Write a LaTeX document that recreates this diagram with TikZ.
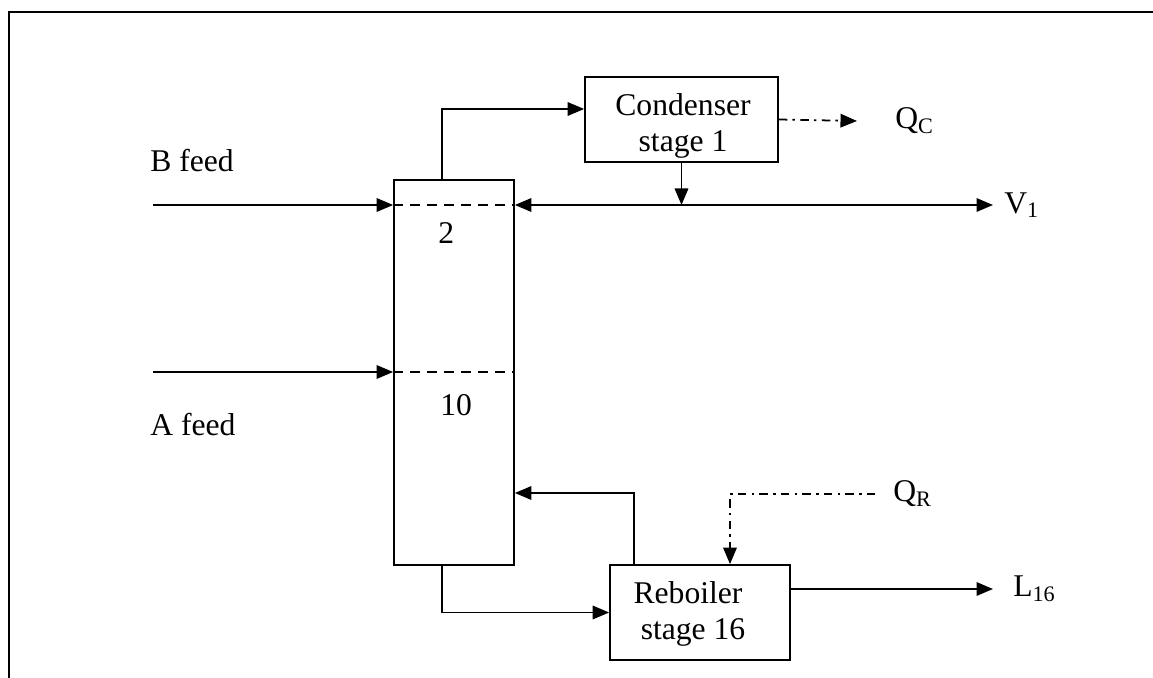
\documentclass[tikz,border=0pt]{standalone}
\usepackage{fontspec}
\setmainfont{Liberation Serif}
\usetikzlibrary{arrows.meta,positioning}

\begin{document}
\begin{tikzpicture}[
  x=0.02cm,y=-0.02cm,
  font=\fontsize{18}{20}\selectfont,
  >={Triangle[length=3.3mm,width=2.7mm]},
  unit/.style={draw, line width=1pt, inner sep=0pt},
  stream/.style={draw, line width=1pt, ->},
  tray/.style={draw, line width=.9pt, dash pattern=on 1.9mm off 1.5mm},
  duty/.style={draw, line width=1pt, dash pattern=on 1.7mm off 1mm on .5mm off 1.1mm},
  tag/.style={inner sep=0pt, anchor=west},
  boxtext/.style={inner sep=0pt, align=center}
]
\useasboundingbox (0,0) rectangle (1153,678);

% outer frame (only top and left edges show)
\draw[line width=1.2pt] (9,678) -- (9,12) -- (1153,12);

% column, condenser and reboiler
\node[unit, minimum width=2.4cm, minimum height=7.7cm] (column) at (454,372.5) {};
\node[unit, minimum width=3.86cm, minimum height=1.7cm] (condenser) at (681.5,119.5) {};
\node[boxtext] (condtext) at (683,126) {Condenser\\stage 1};
\node[unit, minimum width=3.6cm, minimum height=1.9cm] (reboiler) at (700,612.5) {};
\node[boxtext] (reboiltext) at (688,614) {Reboiler\\\hspace*{.2cm}stage 16};

% feed stages
\coordinate (bsrc) at (153,205);
\coordinate (asrc) at (153,372);
\coordinate (tray2w) at (column.west |- bsrc);
\coordinate (tray2e) at (column.east |- bsrc);
\coordinate (tray10w) at (column.west |- asrc);
\coordinate (tray10e) at (column.east |- asrc);
\draw[tray] (tray2w) -- (tray2e);
\draw[tray] (tray10w) -- (tray10e);
\node[tag] (tray2lbl) at (438,233.5) {2};
\node[tag] (tray10lbl) at (440,405) {10};

\node[tag] (bfeed) at (150,161) {B feed};
\node[tag] (afeed) at (150,425) {A feed};
\draw[stream] (bsrc) -- (tray2w);
\draw[stream] (asrc) -- (tray10w);

% overhead and distillate
\draw[stream] ([xshift=-.24cm]column.north) |- ([yshift=.21cm]condenser.west);
\coordinate (split) at (condenser.south |- bsrc);
\node[tag] (v1) at (1004,205) {V\textsubscript{1}};
\draw[stream] (condenser.south) -- (split);
\draw[stream] (split) -- (tray2e);
\draw[stream] (split) -- ([xshift=-.22cm]v1.west);

\node[tag] (qc) at (895,121) {Q\textsubscript{C}};
\draw[duty,->] (condenser.east) -- ([xshift=-.76cm]qc.west);

% bottoms and reboiler
\coordinate (ret) at (column.east |- 0,493);
\draw[stream] ([xshift=-1.32cm]reboiler.north) |- (ret);
\draw[stream] ([xshift=-.24cm]column.south) |- (reboiler.west);

\node[tag] (qr) at (893,494) {Q\textsubscript{R}};
\draw[duty,->] ([xshift=-.36cm]qr.west) -| ([xshift=.6cm]reboiler.north);

\node[tag] (l16) at (1013,589) {L\textsubscript{16}};
\draw[stream] ([yshift=.47cm]reboiler.east) -- ([xshift=-.4cm]l16.west);

\end{tikzpicture}
\end{document}
